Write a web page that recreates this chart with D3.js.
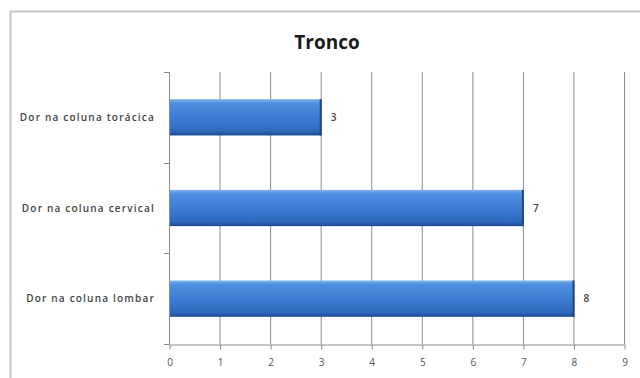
<!DOCTYPE html>
<html>
<head>
<meta charset="utf-8">
<script src="https://cdn.jsdelivr.net/npm/d3@7"></script>
<style>
  html, body { margin: 0; padding: 0; background: #ffffff; }
  svg { display: block; }
</style>
</head>
<body>
<svg id="chart" width="640" height="378"></svg>
<script>
// Chart data
const title = "Tronco";
const categories = ["Dor na coluna torácica", "Dor na coluna cervical", "Dor na coluna lombar"];
const values = [3, 7, 8];
const xTicks = [0, 1, 2, 3, 4, 5, 6, 7, 8, 9];

const svg = d3.select("#chart");
const plot = { left: 169, right: 624, top: 72, bottom: 344 };
const font = "Open Sans, Lato, sans-serif";

// Outer chart frame
svg.append("rect")
  .attr("x", 10.5).attr("y", 11.5)
  .attr("width", 660).attr("height", 400)
  .attr("fill", "#ffffff")
  .attr("stroke", "#c4c4c4").attr("stroke-width", 2);

// Title
svg.append("text")
  .attr("x", 327).attr("y", 49)
  .attr("text-anchor", "middle")
  .attr("font-family", font)
  .attr("font-weight", "bold")
  .attr("font-size", 19)
  .attr("fill", "#1a1a1a")
  .text(title);

const x = d3.scaleLinear().domain([0, 9]).range([plot.left, plot.right]);
const y = d3.scaleBand().domain(categories).range([plot.top, plot.bottom]).paddingInner(0.6).paddingOuter(0.3);

// Gradient for bar fill
const defs = svg.append("defs");
const grad = defs.append("linearGradient").attr("id", "barGrad")
  .attr("x1", 0).attr("y1", 0).attr("x2", 0).attr("y2", 1);
grad.append("stop").attr("offset", "0%").attr("stop-color", "#7db2ee");
grad.append("stop").attr("offset", "12%").attr("stop-color", "#4d8ee0");
grad.append("stop").attr("offset", "55%").attr("stop-color", "#3b7bd3");
grad.append("stop").attr("offset", "88%").attr("stop-color", "#2f68bd");
grad.append("stop").attr("offset", "100%").attr("stop-color", "#1e4a8e");

// Vertical gridlines
svg.append("g")
  .selectAll("line")
  .data(xTicks.slice(1))
  .join("line")
  .attr("x1", d => x(d) + 0.5).attr("x2", d => x(d) + 0.5)
  .attr("y1", plot.top).attr("y2", plot.bottom)
  .attr("stroke", "#8c8c8c").attr("stroke-width", 1);

// Bottom axis
const xAxis = svg.append("g")
  .attr("transform", `translate(0.5,${plot.bottom + 0.5})`)
  .call(d3.axisBottom(x).tickValues(xTicks).tickSize(5).tickSizeOuter(0).tickPadding(9).tickFormat(d3.format("d")));
xAxis.select(".domain").attr("stroke", "#8c8c8c");
xAxis.selectAll(".tick line").attr("stroke", "#8c8c8c");
xAxis.selectAll("text")
  .attr("font-family", font)
  .attr("font-size", 10).attr("fill", "#555");

// Left axis with category boundary ticks
svg.append("line")
  .attr("x1", plot.left + 0.5).attr("x2", plot.left + 0.5)
  .attr("y1", plot.top).attr("y2", plot.bottom)
  .attr("stroke", "#8c8c8c");
const bounds = d3.range(categories.length + 1).map(i => plot.top + i * (plot.bottom - plot.top) / categories.length);
svg.append("g").selectAll("line")
  .data(bounds)
  .join("line")
  .attr("x1", plot.left - 5).attr("x2", plot.left + 0.5)
  .attr("y1", d => Math.round(d) + 0.5).attr("y2", d => Math.round(d) + 0.5)
  .attr("stroke", "#8c8c8c");

// Category labels
svg.append("g").selectAll("text")
  .data(categories)
  .join("text")
  .attr("x", plot.left - 14)
  .attr("y", d => y(d) + y.bandwidth() / 2)
  .attr("dy", "0.35em")
  .attr("text-anchor", "end")
  .attr("font-family", font)
  .attr("font-size", 10)
  .attr("font-weight", 600)
  .attr("letter-spacing", 1.2)
  .attr("fill", "#444")
  .text(d => d);

// Bars
const bars = svg.append("g").selectAll("g")
  .data(categories.map((c, i) => ({ c, v: values[i] })))
  .join("g");
bars.append("rect")
  .attr("x", x(0) + 1)
  .attr("y", d => y(d.c))
  .attr("width", d => x(d.v) - x(0))
  .attr("height", y.bandwidth())
  .attr("fill", "url(#barGrad)");
// darker right edge
bars.append("rect")
  .attr("x", d => x(d.v) - 1)
  .attr("y", d => y(d.c))
  .attr("width", 2)
  .attr("height", y.bandwidth())
  .attr("fill", "#1f4a8a");

// Value labels
bars.append("text")
  .attr("x", d => x(d.v) + 10)
  .attr("y", d => y(d.c) + y.bandwidth() / 2)
  .attr("dy", "0.35em")
  .attr("font-family", font)
  .attr("font-size", 10)
  .attr("font-weight", 600)
  .attr("fill", "#444")
  .text(d => d.v);
</script>
</body>
</html>
